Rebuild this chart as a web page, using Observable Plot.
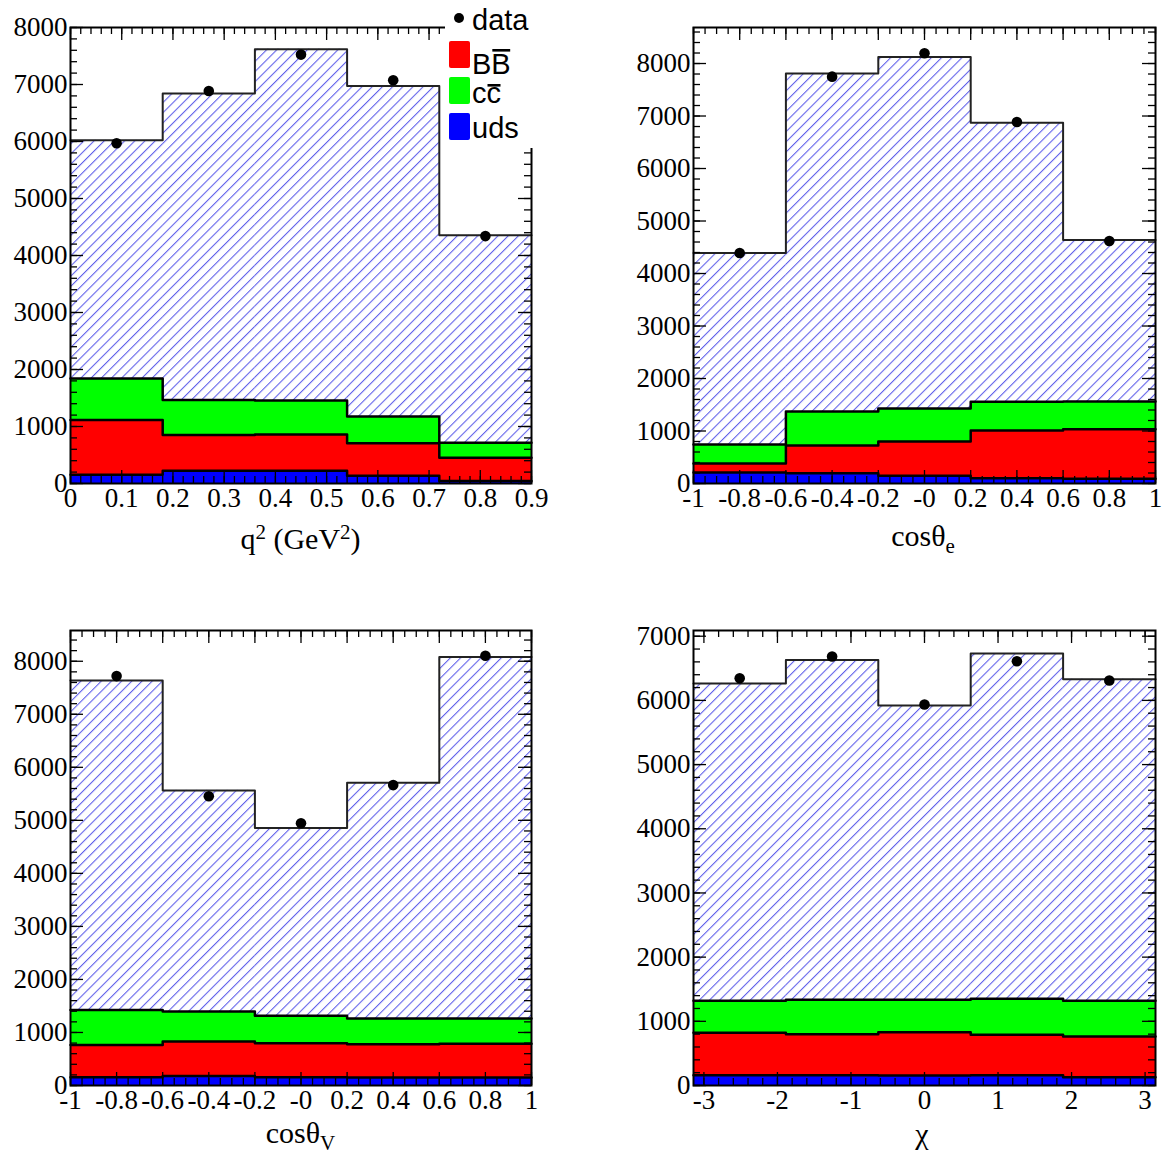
<!DOCTYPE html>
<html>
<head>
<meta charset="utf-8">
<script src="https://cdn.jsdelivr.net/npm/d3@7"></script>
<script src="https://cdn.jsdelivr.net/npm/@observablehq/plot@0.6"></script>
<style>
  html, body { margin: 0; padding: 0; background: #ffffff; }
  #root { position: relative; width: 1163px; height: 1156px; overflow: hidden; background: #fff; }
  .panel { position: absolute; }
  .panel svg { overflow: visible; background: transparent; }
</style>
</head>
<body>
<div id="root"></div>
<script>
// ---------------- data ----------------
// Panel 1: q^2
const q2Edges  = [0, 0.18, 0.36, 0.54, 0.72, 0.9];
const q2Data   = [5970, 6885, 7525, 7075, 4340];
const q2Signal = [4180, 5375, 6165, 5800, 3640];
const q2CC     = [725, 615, 595, 470, 265];
const q2BB     = [960, 625, 635, 570, 405];
const q2UDS    = [155, 225, 225, 135, 45];
const q2XTicks  = [0, 0.1, 0.2, 0.3, 0.4, 0.5, 0.6, 0.7, 0.8, 0.9];
const q2XLabels = ["0", "0.1", "0.2", "0.3", "0.4", "0.5", "0.6", "0.7", "0.8", "0.9"];
const q2YTicks  = [0, 1000, 2000, 3000, 4000, 5000, 6000, 7000, 8000];
const q2YMax    = 8000;

// Panel 2: cos theta_e
const ceEdges  = [-1, -0.6, -0.2, 0.2, 0.6, 1];
const ceData   = [4390, 7750, 8195, 6885, 4620];
const ceSignal = [3645, 6440, 6695, 5315, 3080];
const ceCC     = [365, 645, 630, 545, 525];
const ceBB     = [170, 530, 650, 910, 945];
const ceUDS    = [210, 195, 150, 100, 90];
const ceXTicks  = [-1, -0.8, -0.6, -0.4, -0.2, 0, 0.2, 0.4, 0.6, 0.8, 1];
const ceXLabels = ["-1", "-0.8", "-0.6", "-0.4", "-0.2", "-0", "0.2", "0.4", "0.6", "0.8", "1"];
const ceYTicks  = [0, 1000, 2000, 3000, 4000, 5000, 6000, 7000, 8000];
const ceYMax    = 8686;

// Panel 3: cos theta_V
const cvEdges  = [-1, -0.6, -0.2, 0.2, 0.6, 1];
const cvData   = [7720, 5455, 4945, 5665, 8105];
const cvSignal = [6210, 4170, 3540, 4445, 6815];
const cvCC     = [660, 565, 520, 485, 480];
const cvBB     = [610, 650, 640, 630, 635];
const cvUDS    = [155, 180, 155, 150, 150];
const cvXTicks  = [-1, -0.8, -0.6, -0.4, -0.2, 0, 0.2, 0.4, 0.6, 0.8, 1];
const cvXLabels = ["-1", "-0.8", "-0.6", "-0.4", "-0.2", "-0", "0.2", "0.4", "0.6", "0.8", "1"];
const cvYTicks  = [0, 1000, 2000, 3000, 4000, 5000, 6000, 7000, 8000];
const cvYMax    = 8580;

// Panel 4: chi
const chEdges  = [-3.1416, -1.885, -0.6283, 0.6283, 1.885, 3.1416];
const chData   = [6345, 6685, 5935, 6610, 6310];
const chSignal = [4945, 5295, 4585, 5380, 5010];
const chCC     = [500, 535, 505, 560, 555];
const chBB     = [660, 640, 675, 630, 635];
const chUDS    = [160, 160, 155, 160, 130];
const chXTicks  = [-3, -2, -1, 0, 1, 2, 3];
const chXLabels = ["-3", "-2", "-1", "0", "1", "2", "3"];
const chYTicks  = [0, 1000, 2000, 3000, 4000, 5000, 6000, 7000];
const chYMax    = 7089;

const legendNames = ["data", "BB", "cc", "uds"];
const colBB = "#ff0000", colCC = "#00ff00", colUDS = "#0000ff";

// ---------------- drawing ----------------
const SERIF = "'Liberation Serif', 'Times New Roman', Times, serif";
const SANS = "'Liberation Sans', Arial, Helvetica, sans-serif";

const root = d3.select("#root");

// hatch pattern definition
const defsSvg = root.append("svg").attr("width", 0).attr("height", 0)
  .style("position", "absolute").style("left", "0px").style("top", "0px");
const pat = defsSvg.append("defs").append("pattern")
  .attr("id", "hatch").attr("patternUnits", "userSpaceOnUse")
  .attr("width", 7.2).attr("height", 7.2).attr("patternTransform", "rotate(45)");
pat.append("line").attr("x1", 0.6).attr("y1", -1).attr("x2", 0.6).attr("y2", 9)
  .attr("stroke", "#3434e4").attr("stroke-width", 0.85);

function minorRange(a, b, step) {
  const out = [];
  const n = Math.round((b - a) / step);
  for (let i = 0; i <= n; i++) out.push(+(a + i * step).toFixed(4));
  return out;
}

function drawPanel(cfg, pos) {
  const n = cfg.data.length;
  const bins = [];
  for (let i = 0; i < n; i++) {
    const b = cfg.uds[i], r = b + cfg.bb[i], g = r + cfg.cc[i], t = g + cfg.signal[i];
    bins.push({x1: cfg.edges[i], x2: cfg.edges[i + 1], xc: (cfg.edges[i] + cfg.edges[i + 1]) / 2,
               b, r, g, t, data: cfg.data[i]});
  }
  const step = key => [...bins.map(d => ({x: d.x1, y: d[key]})), {x: bins[n - 1].x2, y: bins[n - 1][key]}];

  const plotW = pos.w - pos.ml - pos.mr, plotH = pos.h - pos.mt - pos.mb;
  const M = 13, m = 7;
  const tk = {stroke: "black", strokeWidth: 1.3};
  const xMinor = cfg.xMinor, yMinor = cfg.yMinor;
  const xLab = cfg.xTicks.map((v, i) => ({v, s: cfg.xLabels[i]}));

  const chart = Plot.plot({
    width: pos.w, height: pos.h,
    marginLeft: pos.ml, marginRight: pos.mr, marginTop: pos.mt, marginBottom: pos.mb,
    x: {domain: cfg.xDomain, axis: null},
    y: {domain: [0, cfg.yMax], axis: null},
    style: {background: "transparent", overflow: "visible"},
    marks: [
      Plot.rect(bins, {x1: "x1", x2: "x2", y1: "g", y2: "t", fill: "url(#hatch)"}),
      Plot.rect(bins, {x1: "x1", x2: "x2", y1: "r", y2: "g", fill: colCC, shapeRendering: "crispEdges"}),
      Plot.rect(bins, {x1: "x1", x2: "x2", y1: "b", y2: "r", fill: colBB, shapeRendering: "crispEdges"}),
      Plot.rect(bins, {x1: "x1", x2: "x2", y1: 0, y2: "b", fill: colUDS, shapeRendering: "crispEdges"}),
      Plot.line(step("t"), {x: "x", y: "y", curve: "step-after", stroke: "#222", strokeWidth: 2}),
      Plot.line(step("g"), {x: "x", y: "y", curve: "step-after", stroke: "black", strokeWidth: 2.5}),
      Plot.line(step("r"), {x: "x", y: "y", curve: "step-after", stroke: "black", strokeWidth: 2.5}),
      Plot.line(step("b"), {x: "x", y: "y", curve: "step-after", stroke: "black", strokeWidth: 2.5}),
      // ticks on all four sides, pointing inward
      Plot.tickX(cfg.xTicks, {x: d => d, insetTop: plotH - M, ...tk}),
      Plot.tickX(cfg.xTicks, {x: d => d, insetBottom: plotH - M, ...tk}),
      Plot.tickX(xMinor, {x: d => d, insetTop: plotH - m, ...tk}),
      Plot.tickX(xMinor, {x: d => d, insetBottom: plotH - m, ...tk}),
      Plot.tickY(cfg.yTicks, {y: d => d, insetRight: plotW - M, ...tk}),
      Plot.tickY(cfg.yTicks, {y: d => d, insetLeft: plotW - M, ...tk}),
      Plot.tickY(yMinor, {y: d => d, insetRight: plotW - m, ...tk}),
      Plot.tickY(yMinor, {y: d => d, insetLeft: plotW - m, ...tk}),
      Plot.frame({stroke: "black", strokeWidth: 2}),
      Plot.dot(bins, {x: "xc", y: "data", r: 5.3, fill: "black"}),
      Plot.text(xLab, {x: "v", text: "s", frameAnchor: "bottom", lineAnchor: "top", dy: 4,
                       fontFamily: SERIF, fontSize: 27, fill: "black"}),
      Plot.text(cfg.yTicks, {y: d => d, text: d => String(d), frameAnchor: "left", textAnchor: "end",
                             dx: -3, fontFamily: SERIF, fontSize: 27, fill: "black"})
    ]
  });

  // axis title with super/subscripts
  const svg = d3.select(chart);
  const cx = pos.ml + plotW / 2 + cfg.titleDx;
  const t = svg.append("text").attr("x", cx).attr("y", pos.h - pos.mb + cfg.titleDy)
    .attr("text-anchor", "middle").attr("font-family", SERIF).attr("font-size", 30).attr("fill", "black");
  let prev = 0;
  for (const p of cfg.title) {
    const shift = p.s === "sup" ? -10 : p.s === "sub" ? 7 : 0;
    const ts = t.append("tspan").text(p.t).attr("dy", shift - prev);
    if (p.s) ts.attr("font-size", 21);
    prev = shift;
  }

  root.append("div").attr("class", "panel")
    .style("left", pos.left + "px").style("top", pos.top + "px")
    .node().appendChild(chart);
}

const posTL = {left: 0,   top: 0,   w: 581, h: 578, ml: 70,  mr: 50, mt: 27, mb: 95};
const posTR = {left: 581, top: 0,   w: 582, h: 578, ml: 112, mr: 8,  mt: 27, mb: 95};
const posBL = {left: 0,   top: 578, w: 581, h: 578, ml: 70,  mr: 50, mt: 52, mb: 71};
const posBR = {left: 581, top: 578, w: 582, h: 578, ml: 112, mr: 8,  mt: 52, mb: 71};

drawPanel({edges: q2Edges, data: q2Data, signal: q2Signal, cc: q2CC, bb: q2BB, uds: q2UDS,
  xDomain: [0, 0.9], yMax: q2YMax, xTicks: q2XTicks, xLabels: q2XLabels, yTicks: q2YTicks,
  xMinor: minorRange(0, 0.9, 0.02), yMinor: minorRange(0, 8000, 200),
  title: [{t: "q"}, {t: "2", s: "sup"}, {t: " (GeV"}, {t: "2", s: "sup"}, {t: ")"}], titleDy: 66, titleDx: 0}, posTL);

drawPanel({edges: ceEdges, data: ceData, signal: ceSignal, cc: ceCC, bb: ceBB, uds: ceUDS,
  xDomain: [-1, 1], yMax: ceYMax, xTicks: ceXTicks, xLabels: ceXLabels, yTicks: ceYTicks,
  xMinor: minorRange(-1, 1, 0.05), yMinor: minorRange(0, 8600, 200),
  title: [{t: "cosθ"}, {t: "e", s: "sub"}], titleDy: 63, titleDx: -1}, posTR);

drawPanel({edges: cvEdges, data: cvData, signal: cvSignal, cc: cvCC, bb: cvBB, uds: cvUDS,
  xDomain: [-1, 1], yMax: cvYMax, xTicks: cvXTicks, xLabels: cvXLabels, yTicks: cvYTicks,
  xMinor: minorRange(-1, 1, 0.05), yMinor: minorRange(0, 8400, 200),
  title: [{t: "cosθ"}, {t: "V", s: "sub"}], titleDy: 58, titleDx: 0}, posBL);

drawPanel({edges: chEdges, data: chData, signal: chSignal, cc: chCC, bb: chBB, uds: chUDS,
  xDomain: [-3.1416, 3.1416], yMax: chYMax, xTicks: chXTicks, xLabels: chXLabels, yTicks: chYTicks,
  xMinor: minorRange(-3, 3, 0.2), yMinor: minorRange(0, 7000, 200),
  title: [{t: "χ"}], titleDy: 59, titleDx: -2}, posBR);

// ---------------- legend (top-left panel) ----------------
const leg = root.append("svg").attr("width", 100).attr("height", 148)
  .style("position", "absolute").style("left", "445px").style("top", "0px");
leg.append("rect").attr("x", 0).attr("y", 0).attr("width", 100).attr("height", 148).attr("fill", "white");
leg.append("circle").attr("cx", 14).attr("cy", 18).attr("r", 5).attr("fill", "black");
const legRows = [
  {kind: "dot", name: legendNames[0], base: 30},
  {kind: "box", color: colBB, name: legendNames[1], base: 74, top: 41, over: 25},
  {kind: "box", color: colCC, name: legendNames[2], base: 103, top: 77, over: 19},
  {kind: "box", color: colUDS, name: legendNames[3], base: 138, top: 113, over: 0}
];
for (const r of legRows) {
  if (r.kind === "box") {
    leg.append("rect").attr("x", 4).attr("y", r.top).attr("width", 21).attr("height", 27)
      .attr("rx", 2).attr("fill", r.color);
  }
  const tx = leg.append("text").attr("x", 27).attr("y", r.base)
    .attr("font-family", SANS).attr("font-size", 29).attr("fill", "black").text(r.name);
  if (r.over) {
    const node = tx.node();
    const sx = node.getStartPositionOfChar(1).x;
    const w = node.getSubStringLength(1, 1);
    leg.append("rect").attr("x", sx + 1).attr("y", r.base - r.over).attr("width", w - 1.5)
      .attr("height", 2.6).attr("fill", "black");
  }
}
</script>
</body>
</html>
